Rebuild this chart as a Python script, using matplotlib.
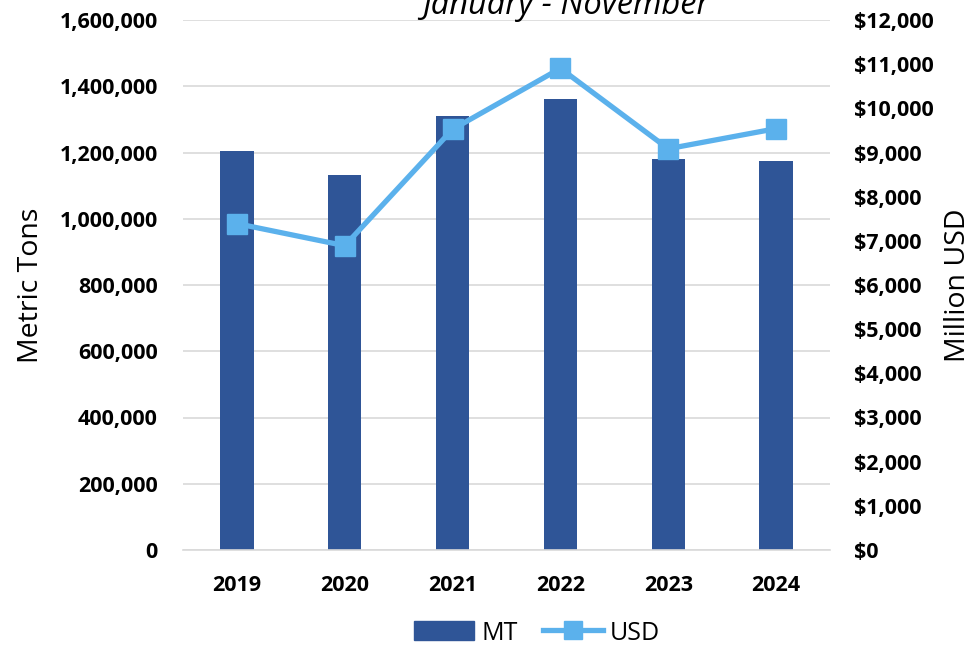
import matplotlib
matplotlib.use("Agg")
import matplotlib.pyplot as plt
from matplotlib.ticker import FuncFormatter
from matplotlib.lines import Line2D
from matplotlib.patches import Patch

years = ["2019", "2020", "2021", "2022", "2023", "2024"]
mt = [1205000, 1132000, 1310000, 1362000, 1180000, 1174000]
usd = [7390, 6890, 9525, 10905, 9085, 9540]

bar_color = "#2F5597"
line_color = "#5BB1EC"
font = ["Open Sans", "DejaVu Sans"]
plt.rcParams["font.family"] = font

fig = plt.figure(figsize=(9.73, 6.47), dpi=100)
ax = fig.add_axes([183/973, 1-550/647, (830-183)/973, (550-20)/647])
x = list(range(len(years)))
ax.bar(x, mt, width=0.31, color=bar_color, zorder=2)
ax.set_xlim(-0.5, 5.5)
ax.set_ylim(0, 1600000)
ax.set_yticks(range(0, 1600001, 200000))
ax.yaxis.set_major_formatter(FuncFormatter(lambda v, p: f"{int(v):,}"))
ax.set_xticks(x)
ax.set_xticklabels(years)
ax.grid(axis="y", color="#D9D9D9", linewidth=1.2, zorder=0)
for s in ["left", "right", "top"]:
    ax.spines[s].set_visible(False)
ax.spines["bottom"].set_color("#D9D9D9")
ax.spines["bottom"].set_linewidth(1.2)
ax.tick_params(axis="y", length=0, labelsize=15.5, pad=18)
ax.tick_params(axis="x", length=0, labelsize=15.5, pad=18)
for t in ax.get_xticklabels() + ax.get_yticklabels():
    t.set_fontweight("bold")
ax.set_ylabel("Metric Tons", fontsize=20.5)
ax.yaxis.set_label_coords((45-183)/647, 0.5)

ax2 = ax.twinx()
ax2.plot(x, usd, color=line_color, linewidth=3.8, marker="s", markersize=15, zorder=3)
ax2.set_ylim(0, 12000)
ax2.set_yticks(range(0, 12001, 1000))
ax2.yaxis.set_major_formatter(FuncFormatter(lambda v, p: f"${int(v):,}"))
for s in ["left", "right", "top", "bottom"]:
    ax2.spines[s].set_visible(False)
ax2.tick_params(length=0, labelsize=15.5, pad=17)
for t in ax2.get_yticklabels():
    t.set_fontweight("bold")
ax2.set_ylabel("Million USD", fontsize=20.5)
ax2.yaxis.set_label_coords((944-183)/647, 0.5)

fig.text(566/973, 1-14/647, "January - November", ha="center", va="baseline",
         fontsize=23.5, style="italic")

handles = [Patch(color=bar_color, label="MT"),
           Line2D([0], [0], color=line_color, linewidth=3.8, marker="s", markersize=13, label="USD")]
fig.legend(handles=handles, loc="center", bbox_to_anchor=(537/973, 1-633/647), ncol=2,
           frameon=False, fontsize=18, handlelength=2.4, handleheight=0.8,
           columnspacing=1.0, handletextpad=0.3)

fig.savefig("out.png", dpi=100)
